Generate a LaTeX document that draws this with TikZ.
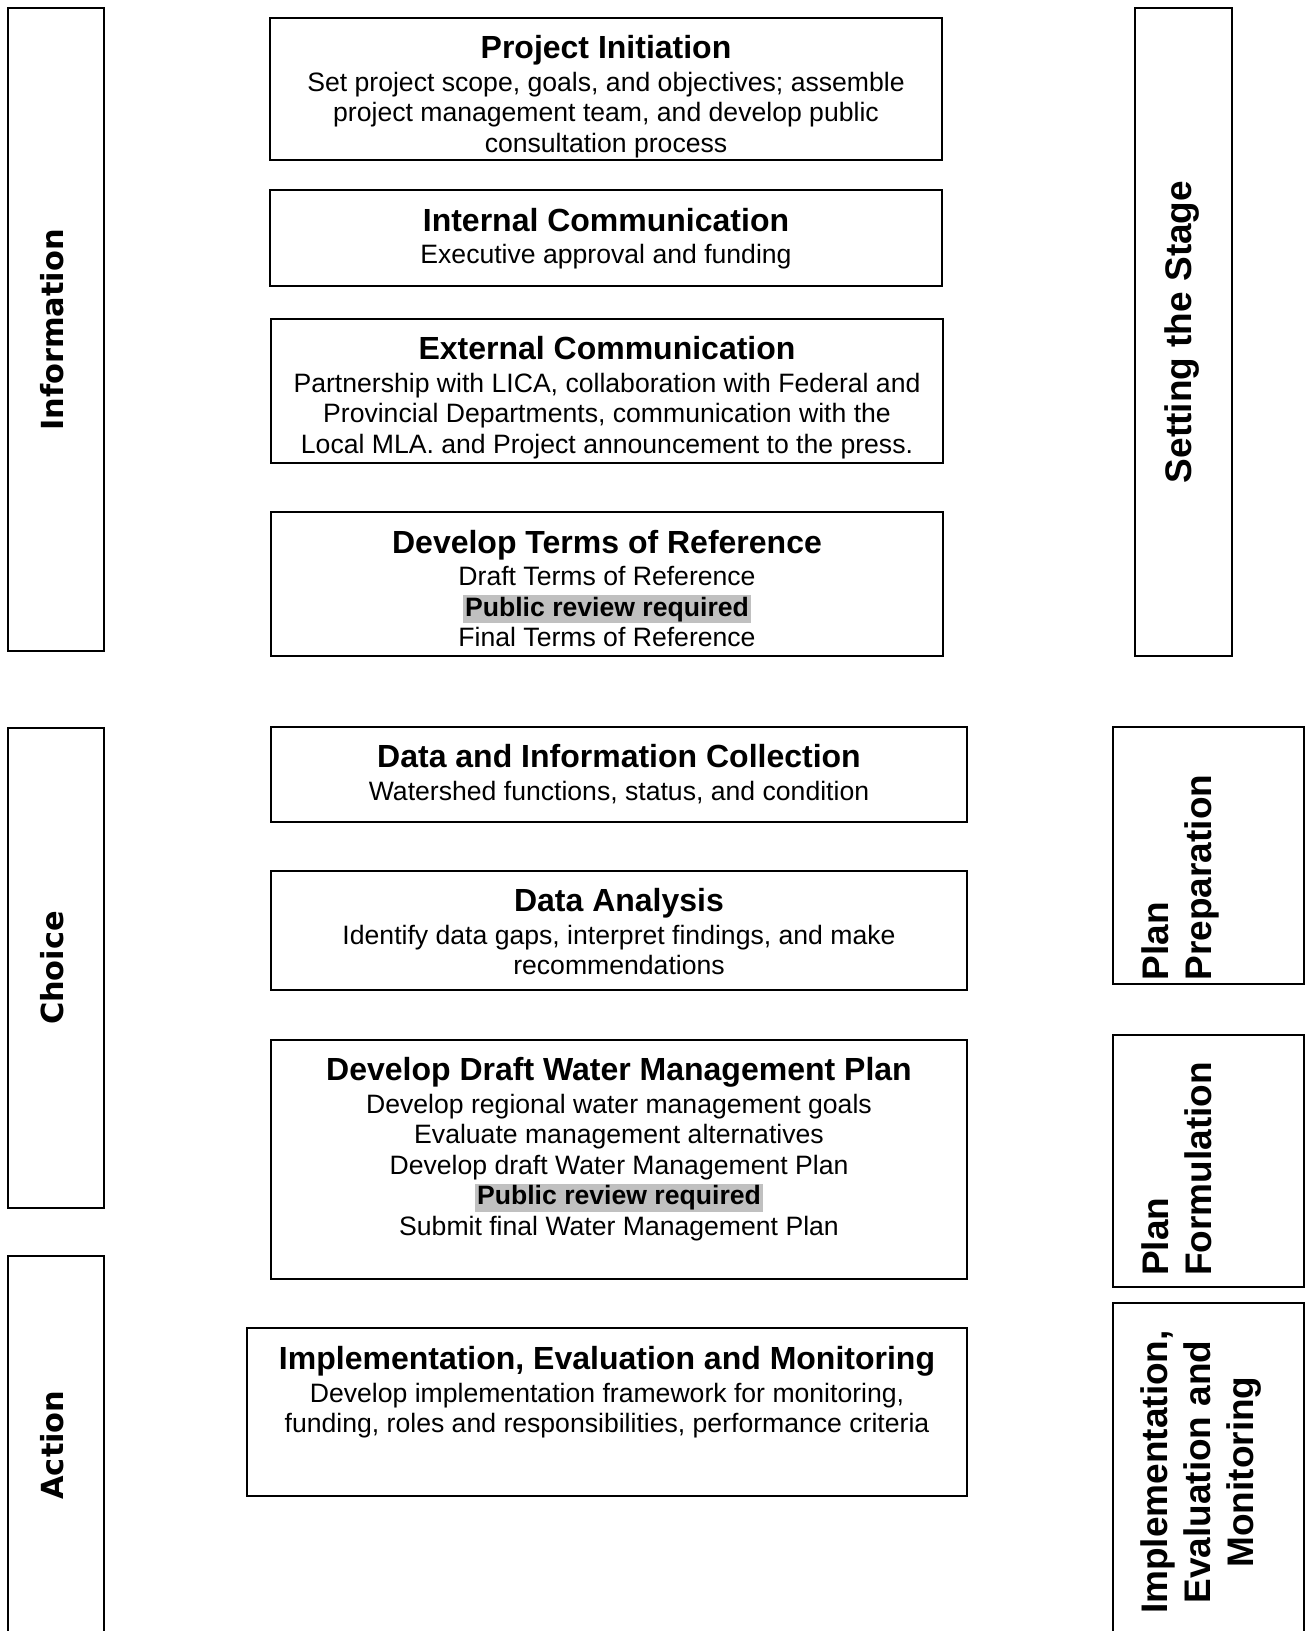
\documentclass[tikz,border=0pt]{standalone}
\usepackage{fontspec}
\setmainfont{Liberation Sans}
\newfontfamily\sidefont{DejaVu Sans}
\usetikzlibrary{positioning}
\definecolor{hlgray}{HTML}{C0C0C0}

\newcommand{\boxtitle}[1]{{\fontsize{16pt}{18pt}\selectfont\bfseries #1}\\[1pt]}
\newcommand{\review}{{\setlength{\fboxsep}{0.8pt}\colorbox{hlgray}{\bfseries Public review required}}}

\tikzset{
 box/.style={draw, line width=0.9pt, rectangle, inner sep=0pt},
 boxtext/.style={align=center, inner sep=0pt, font=\fontsize{13.3pt}{15.25pt}\selectfont},
 sidelabel/.style={rotate=90, inner sep=0pt, font=\sidefont\bfseries\fontsize{15.2pt}{18pt}\selectfont},
 stagelabel/.style={rotate=90, inner sep=0pt, font=\bfseries\fontsize{18.5pt}{21.5pt}\selectfont}
}

\begin{document}
\begin{tikzpicture}[x=0.5pt, y=-0.5pt]
 \useasboundingbox (0,0) rectangle (1306,1631);

 % left column
 \draw (56, 329.5) node[box, minimum width=48pt, minimum height=321.5pt] (Information) {};
 \draw (56, 968) node[box, minimum width=48pt, minimum height=240pt] (Choice) {};
 \draw (56, 1453) node[box, minimum width=48pt, minimum height=197pt] (Action) {};
 \draw (52, 330) node[sidelabel] (InformationLabel) {Information};
 \draw (52, 968) node[sidelabel] (ChoiceLabel) {Choice};
 \draw (52, 1445) node[sidelabel] (ActionLabel) {Action};

 % right column
 \draw (1183.5, 332) node[box, minimum width=48.5pt, minimum height=324pt] (Stage) {};
 \draw (1208.5, 855.5) node[box, minimum width=95.5pt, minimum height=128.5pt] (Preparation) {};
 \draw (1208.5, 1161) node[box, minimum width=95.5pt, minimum height=126pt] (Formulation) {};
 \draw (1208.5, 1476.5) node[box, minimum width=95.5pt, minimum height=173.5pt] (Monitoring) {};
 \draw (1182, 332) node[stagelabel] (StageLabel) {Setting the Stage};
 \draw (1180, 877.5) node[stagelabel, align=left] (PreparationLabel) {Plan\\Preparation};
 \draw (1176.5, 1169) node[stagelabel, align=left] (FormulationLabel) {Plan\\Formulation};
 \draw (1201, 1472) node[stagelabel, align=center] (MonitoringLabel) {Implementation,\\Evaluation and\\Monitoring};

 % middle column
 \draw (606, 89) node[box, minimum width=336pt, minimum height=71pt] (Initiation) {};
 \draw (606, 238) node[box, minimum width=336pt, minimum height=48pt] (Internal) {};
 \draw (607, 391) node[box, minimum width=336pt, minimum height=72pt] (External) {};
 \draw (607, 584) node[box, minimum width=336pt, minimum height=72pt] (Terms) {};
 \draw (619, 774.5) node[box, minimum width=348pt, minimum height=47.5pt] (Collection) {};
 \draw (619, 930.5) node[box, minimum width=348pt, minimum height=59.5pt] (Analysis) {};
 \draw (619, 1159.5) node[box, minimum width=348pt, minimum height=119.5pt] (DraftPlan) {};
 \draw (607, 1412) node[box, minimum width=360pt, minimum height=84pt] (Implementation) {};

 \node[boxtext, below=9pt of Initiation.north] (InitiationText)
  {\boxtitle{Project Initiation}Set project scope, goals, and objectives; assemble\\project management team, and develop public\\consultation process};
 \node[boxtext, below=9.2pt of Internal.north] (InternalText)
  {\boxtitle{Internal Communication}Executive approval and funding};
 \node[boxtext, below=9pt of External.north] (ExternalText)
  {\boxtitle{External Communication}Partnership with LICA, collaboration with Federal and\\Provincial Departments, communication with the\\Local MLA. and Project announcement to the press.};
 \node[boxtext, below=9.2pt of Terms.north] (TermsText)
  {\boxtitle{Develop Terms of Reference}Draft Terms of Reference\\\review\\Final Terms of Reference};
 \node[boxtext, below=9pt of Collection.north] (CollectionText)
  {\boxtitle{Data and Information Collection}Watershed functions, status, and condition};
 \node[boxtext, below=9pt of Analysis.north] (AnalysisText)
  {\boxtitle{Data Analysis}Identify data gaps, interpret findings, and make\\recommendations};
 \node[boxtext, below=9pt of DraftPlan.north] (DraftPlanText)
  {\boxtitle{Develop Draft Water Management Plan}Develop regional water management goals\\Evaluate management alternatives\\Develop draft Water Management Plan\\\review\\Submit final Water Management Plan};
 \node[boxtext, below=9.4pt of Implementation.north] (ImplementationText)
  {\boxtitle{Implementation, Evaluation and Monitoring}Develop implementation framework for monitoring,\\funding, roles and responsibilities, performance criteria};
\end{tikzpicture}
\end{document}
